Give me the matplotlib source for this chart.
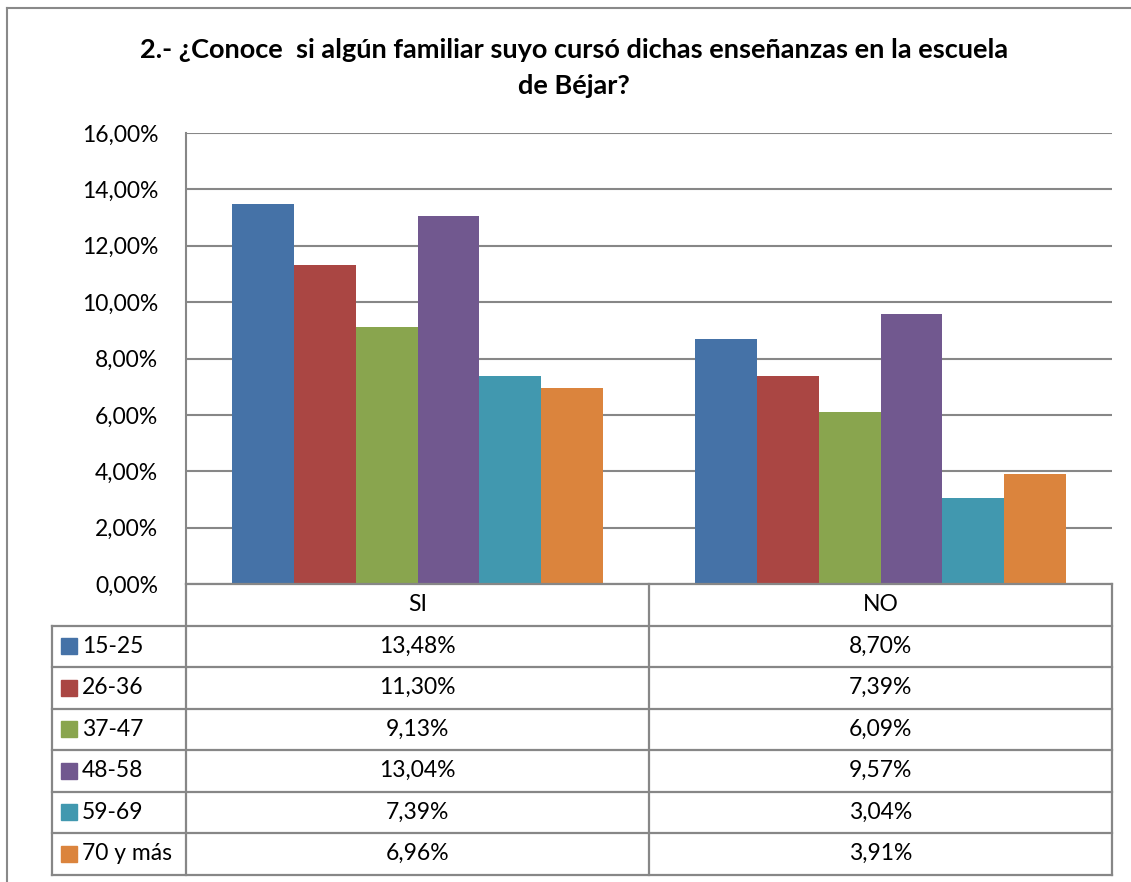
import matplotlib
matplotlib.use("Agg")
import matplotlib.pyplot as plt
from matplotlib.patches import Rectangle
import numpy as np

# data
categories = ["SI", "NO"]
groups = ["15-25", "26-36", "37-47", "48-58", "59-69", "70 y más"]
si_values = [13.48, 11.30, 9.13, 13.04, 7.39, 6.96]
no_values = [8.70, 7.39, 6.09, 9.57, 3.04, 3.91]
colors = ["#4572A7", "#AA4643", "#89A54E", "#71588F", "#4198AF", "#DB843D"]
yticks = [0, 2, 4, 6, 8, 10, 12, 14, 16]

title = "2.- ¿Conoce  si algún familiar suyo cursó dichas enseñanzas en la escuela\nde Béjar?"

plt.rcParams['font.family'] = ['Lato', 'DejaVu Sans']

W, H = 1131, 882
fig = plt.figure(figsize=(W / 100, H / 100), dpi=100)

grid_col = "#878787"
fs = 16.5

# pixel layout
px_left, px_right = 186, 1112
px_top, px_base = 133, 584
row_h = 41.5
lab_left = 52

ax = fig.add_axes([px_left / W, 1 - px_base / H, (px_right - px_left) / W, (px_base - px_top) / H])

x = np.arange(len(categories))
nb = len(groups)
bw = 0.8 / nb
for i, g in enumerate(groups):
    vals = [si_values[i], no_values[i]]
    ax.bar(x - 0.4 + bw * (i + 0.5), vals, width=bw, color=colors[i], zorder=3)

ax.set_xlim(-0.5, len(categories) - 0.5)
ax.set_ylim(0, 16)
ax.set_yticks(yticks)
ax.set_yticklabels([f"{v:.2f}%".replace(".", ",") for v in yticks], fontsize=fs)
ax.tick_params(axis="y", length=0, pad=20)
ax.set_xticks([])
ax.grid(axis="y", color=grid_col, linewidth=1.5, zorder=0)
for s in ["top", "right", "bottom"]:
    ax.spines[s].set_visible(False)
ax.spines["left"].set_color(grid_col)
ax.spines["left"].set_linewidth(1.5)

# overlay in pixel coordinates for table and frame
ov = fig.add_axes([0, 0, 1, 1], zorder=5)
ov.set_xlim(0, W)
ov.set_ylim(H, 0)
ov.axis("off")
ov.patch.set_alpha(0)

# outer frame
ov.plot([7, 7], [8, H + 5], color="#898989", lw=1.5)
ov.plot([7, W + 5], [8, 8], color="#898989", lw=1.5)

# title
ov.text(574, 68, title, ha="center", va="center",
        fontsize=19.5, fontweight="bold", linespacing=1.6)

n_rows = len(groups)
tbl_bottom = px_base + row_h * (n_rows + 1)
mid = (px_left + px_right) / 2
lw = 1.6
# horizontal lines
ov.plot([px_left, px_right], [px_base, px_base], color=grid_col, lw=lw)
for r in range(n_rows + 1):
    y = px_base + row_h * (r + 1)
    ov.plot([lab_left, px_right], [y, y], color=grid_col, lw=lw)
# vertical lines
ov.plot([px_left, px_left], [px_base, tbl_bottom], color=grid_col, lw=lw)
ov.plot([mid, mid], [px_base, tbl_bottom], color=grid_col, lw=lw)
ov.plot([px_right, px_right], [px_base, tbl_bottom], color=grid_col, lw=lw)
ov.plot([lab_left, lab_left], [px_base + row_h, tbl_bottom], color=grid_col, lw=lw)

col_centers = [(px_left + mid) / 2, (mid + px_right) / 2]
for c, cat in enumerate(categories):
    ov.text(col_centers[c], px_base + row_h / 2, cat, ha="center", va="center", fontsize=fs)

for r, g in enumerate(groups):
    yc = px_base + row_h * (r + 1.5)
    ov.add_patch(Rectangle((61, yc - 8), 16, 16, color=colors[r]))
    ov.text(82, yc, g, ha="left", va="center", fontsize=fs)
    ov.text(col_centers[0], yc, f"{si_values[r]:.2f}%".replace(".", ","), ha="center", va="center", fontsize=fs)
    ov.text(col_centers[1], yc, f"{no_values[r]:.2f}%".replace(".", ","), ha="center", va="center", fontsize=fs)

fig.savefig("out.png", dpi=100)
